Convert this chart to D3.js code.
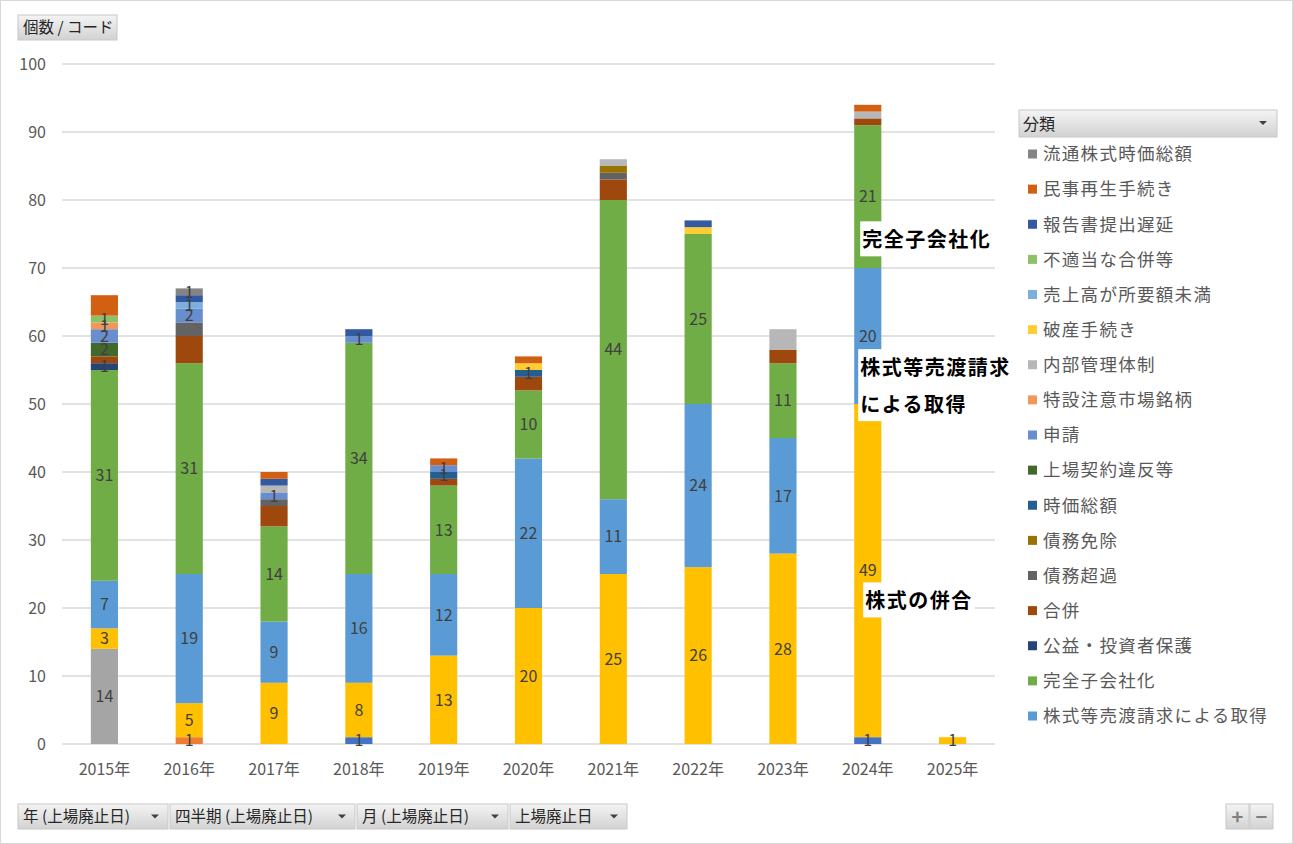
<!DOCTYPE html>
<html><head><meta charset="utf-8">
<script src="https://cdn.jsdelivr.net/npm/d3@7/dist/d3.min.js"></script>
<style>
html,body{margin:0;padding:0;background:#fff;}
svg{display:block;font-family:"Noto Sans CJK JP","Noto Sans",sans-serif;}
</style></head>
<body>
<svg id="chart" width="1293" height="844"></svg>
<script>
const years = ["2015年","2016年","2017年","2018年","2019年","2020年","2021年","2022年","2023年","2024年","2025年"];
const yTicks = [0,10,20,30,40,50,60,70,80,90,100];
// series in stacking order (bottom → top)
const seriesNames = [
  "会社解散","株式移転","株式交換","株式の併合",
  "株式等売渡請求による取得","完全子会社化","公益・投資者保護","合併","債務超過","債務免除",
  "時価総額","上場契約違反等","申請","特設注意市場銘柄","内部管理体制","破産手続き",
  "売上高が所要額未満","不適当な合併等","報告書提出遅延","民事再生手続き","流通株式時価総額"
];
const seriesColors = [
  "#4472C4","#ED7D31","#A5A5A5","#FFC000",
  "#5B9BD5","#70AD47","#264478","#9E480E","#636363","#997300",
  "#255E91","#43682B","#698ED0","#F1975A","#B7B7B7","#FFCD33",
  "#7CAFDD","#8CC168","#335AA1","#D26012","#848484"
];
const s01 = [0,0,0,1,0,0,0,0,0,1,0];
const s02 = [0,1,0,0,0,0,0,0,0,0,0];
const s03 = [14,0,0,0,0,0,0,0,0,0,0];
const s04 = [3,5,9,8,13,20,25,26,28,49,1];
const s05 = [7,19,9,16,12,22,11,24,17,20,0];
const s06 = [31,31,14,34,13,10,44,25,11,21,0];
const s07 = [1,0,0,0,0,0,0,0,0,0,0];
const s08 = [1,4,3,0,1,2,3,0,2,1,0];
const s09 = [0,2,1,0,0,0,1,0,0,0,0];
const s10 = [0,0,0,0,0,0,1,0,0,0,0];
const s11 = [0,0,0,0,1,1,0,0,0,0,0];
const s12 = [2,0,0,0,0,0,0,0,0,0,0];
const s13 = [2,2,1,1,1,0,0,0,0,0,0];
const s14 = [1,0,0,0,0,0,0,0,0,0,0];
const s15 = [0,0,1,0,0,0,1,0,3,1,0];
const s16 = [0,0,0,0,0,1,0,1,0,0,0];
const s17 = [0,1,0,0,0,0,0,0,0,0,0];
const s18 = [1,0,0,0,0,0,0,0,0,0,0];
const s19 = [0,1,1,1,0,0,0,1,0,0,0];
const s20 = [3,0,1,0,1,1,0,0,0,1,0];
const s21 = [0,1,0,0,0,0,0,0,0,0,0];
const seriesValues = [s01,s02,s03,s04,s05,s06,s07,s08,s09,s10,s11,s12,s13,s14,s15,s16,s17,s18,s19,s20,s21];
// series whose data labels are shown
const labeledSeries = ["会社解散","株式移転","株式交換","株式の併合","株式等売渡請求による取得","完全子会社化",
  "公益・投資者保護","時価総額","上場契約違反等","申請","特設注意市場銘柄","売上高が所要額未満","不適当な合併等","流通株式時価総額"];
// legend shows series 5..21, newest first
const legendNames = seriesNames.slice(4).reverse();
const annotations = [
  {lines:["完全子会社化"], year:"2024年", value:74.1, dx:8},
  {lines:["株式等売渡請求","による取得"], year:"2024年", value:55.3, dx:6},
  {lines:["株式の併合"], year:"2024年", value:21.0, dx:11}
];
const filterButtons = ["年 (上場廃止日)","四半期 (上場廃止日)","月 (上場廃止日)","上場廃止日"];

const svg = d3.select("#chart");
// outer border
svg.append("rect").attr("x",0.5).attr("y",0.5).attr("width",1292).attr("height",843)
  .attr("fill","#fff").attr("stroke","#d9d9d9");

const defs = svg.append("defs");
const grad = defs.append("linearGradient").attr("id","btn").attr("x1",0).attr("y1",0).attr("x2",0).attr("y2",1);
grad.append("stop").attr("offset","0%").attr("stop-color","#f4f4f4");
grad.append("stop").attr("offset","100%").attr("stop-color","#d2d2d2");

const x = d3.scaleBand().domain(years).range([62,995]).paddingInner(0.68).paddingOuter(0.34);
const y = d3.scaleLinear().domain([0,100]).range([744,64]);

// gridlines
svg.append("g").selectAll("line").data(yTicks).join("line")
  .attr("x1",62).attr("x2",995).attr("y1",d=>y(d)).attr("y2",d=>y(d))
  .attr("stroke","#d9d9d9").attr("stroke-width",1.3);

// y axis
const yAxis = svg.append("g").attr("transform","translate(46,0)")
  .call(d3.axisLeft(y).tickValues(yTicks).tickSize(0).tickPadding(0));
yAxis.select(".domain").remove();
yAxis.selectAll("text").attr("font-size",16).attr("fill","#595959")
  .attr("font-family","'Noto Sans CJK JP',sans-serif");

// x axis
const xAxis = svg.append("g").attr("transform","translate(0,744)")
  .call(d3.axisBottom(x).tickSize(0).tickPadding(20));
xAxis.select(".domain").remove();
xAxis.selectAll("text").attr("font-size",16).attr("fill","#595959")
  .attr("font-family","'Noto Sans CJK JP',sans-serif");

// stack
const table = years.map((yr,i)=>{
  const o = {year:yr};
  seriesNames.forEach((n,k)=>o[n]=seriesValues[k][i]);
  return o;
});
const stacked = d3.stack().keys(seriesNames)(table);

const gBars = svg.append("g");
stacked.forEach((layer,k)=>{
  gBars.append("g").attr("fill",seriesColors[k]).selectAll("rect")
    .data(layer.filter(d=>d[1]-d[0]>0)).join("rect")
    .attr("x",d=>x(d.data.year)).attr("width",x.bandwidth())
    .attr("y",d=>y(d[1])).attr("height",d=>y(d[0])-y(d[1]));
});
const gLab = svg.append("g");
stacked.forEach((layer,k)=>{
  if(!labeledSeries.includes(seriesNames[k])) return;
  gLab.append("g").selectAll("text")
    .data(layer.filter(d=>d[1]-d[0]>0)).join("text")
    .attr("x",d=>x(d.data.year)+x.bandwidth()/2)
    .attr("y",d=>(y(d[0])+y(d[1]))/2)
    .attr("dy","0.36em").attr("text-anchor","middle")
    .attr("font-size",16).attr("fill","#404040")
    .text(d=>d[1]-d[0]);
});

// annotations (text boxes with white fill)
const lineGap = 37;
annotations.forEach(a=>{
  const g = svg.append("g");
  const x0 = x(a.year) + a.dx;
  const cy0 = y(a.value);
  const bg = g.append("rect").attr("fill","#fff");
  const t = g.append("text").attr("font-size",20).attr("font-weight","bold")
    .attr("fill","#000").attr("letter-spacing",1.5);
  a.lines.forEach((ln,i)=>{
    t.append("tspan").attr("x",x0).attr("y",cy0 + i*lineGap).attr("dy","0.36em").text(ln);
  });
  const bb = t.node().getBBox();
  bg.attr("x",bb.x-2).attr("y",bb.y-3).attr("width",bb.width+4).attr("height",bb.height+6);
});

// field buttons
function button(xp,yp,w,h,label,arrow){
  const g = svg.append("g");
  g.append("rect").attr("x",xp).attr("y",yp).attr("width",w).attr("height",h)
    .attr("fill","url(#btn)").attr("stroke","#c8c8c8");
  g.append("text").attr("x",xp+5).attr("y",yp+h/2).attr("dy","0.36em")
    .attr("font-size",15.5).attr("fill","#262626").text(label);
  if(arrow){
    const ax = xp+w-13, ay = yp+h/2;
    g.append("path").attr("d",`M${ax-4},${ay-2}L${ax+4},${ay-2}L${ax},${ay+2}Z`).attr("fill","#404040");
  }
}
button(18,15,99,25,"個数 / コード",false);

// bottom filter buttons
const bx = d3.scaleOrdinal().domain(filterButtons).range([18,170,357,510]);
const bw = d3.scaleOrdinal().domain(filterButtons).range([150,185,151,117]);
filterButtons.forEach(b=>button(bx(b),804,bw(b),25,b,true));

// +/- buttons
[["+",1226],["−",1250]].forEach(([s,xp])=>{
  svg.append("rect").attr("x",xp).attr("y",804).attr("width",23).attr("height",25)
    .attr("fill","url(#btn)").attr("stroke","#c8c8c8");
  svg.append("text").attr("x",xp+11.5).attr("y",816.5).attr("dy","0.36em").attr("text-anchor","middle")
    .attr("font-size",20).attr("font-weight","bold").attr("fill","#7f7f7f").text(s);
});

// legend header
svg.append("rect").attr("x",1019).attr("y",110).attr("width",258).attr("height",27)
  .attr("fill","url(#btn)").attr("stroke","#c8c8c8");
svg.append("text").attr("x",1023).attr("y",124).attr("dy","0.36em").attr("font-size",16).attr("fill","#262626").text("分類");
svg.append("path").attr("d","M1259,121L1267,121L1263,125Z").attr("fill","#404040");

// legend items
const ly = d3.scalePoint().domain(legendNames).range([154,716]);
const leg = svg.append("g");
legendNames.forEach(n=>{
  const k = seriesNames.indexOf(n);
  leg.append("rect").attr("x",1028).attr("y",ly(n)-4.5).attr("width",9).attr("height",9).attr("fill",seriesColors[k]);
  leg.append("text").attr("x",1043).attr("y",ly(n)).attr("dy","0.36em")
    .attr("font-size",17.5).attr("letter-spacing",1.3).attr("fill","#595959").text(n);
});
</script>
</body></html>
